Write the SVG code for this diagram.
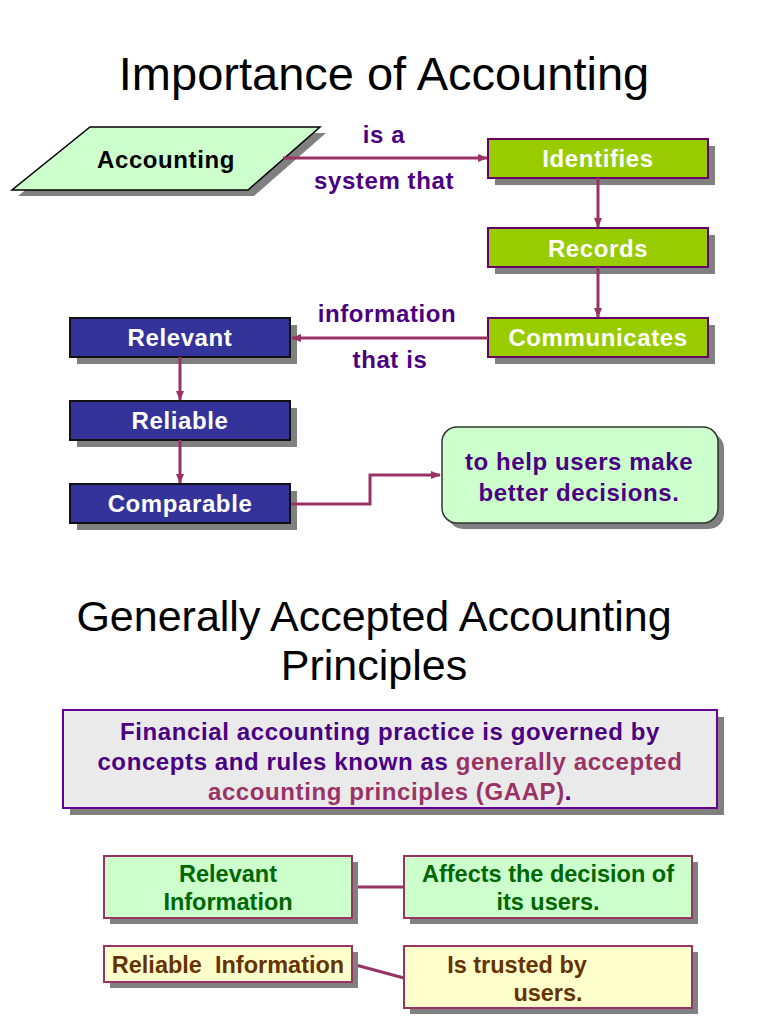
<svg xmlns="http://www.w3.org/2000/svg" width="768" height="1024" viewBox="0 0 768 1024">
<defs>
<marker id="ah" markerWidth="10" markerHeight="8" refX="9" refY="4" orient="auto" markerUnits="userSpaceOnUse">
<path d="M0,0 L10,4 L0,8 Z" fill="#993366"/>
</marker>
<style>
.t{font-family:"Liberation Sans",Arial,sans-serif;font-weight:bold;font-size:24px;letter-spacing:0.6px;text-anchor:middle}
.title{font-family:"Liberation Sans",Arial,sans-serif;text-anchor:middle;fill:#000}
.lbl{fill:#4b0082}
.w{fill:#fff}
.sh{fill:#808080}
.green{fill:#99cc00;stroke:#660066;stroke-width:2}
.blue{fill:#333399;stroke:#111;stroke-width:2}
.conn{stroke:#993366;stroke-width:3;fill:none}
.b{font-size:23.5px;letter-spacing:0}
</style>
</defs>
<rect width="768" height="1024" fill="#fff"/>

<text class="title" x="384" y="90" font-size="47">Importance of Accounting</text>

<g id="accounting">
<polygon class="sh" points="96,133 326,133 254,196 18,196"/>
<polygon points="90,127 320,127 248,190 12,190" fill="#ccffcc" stroke="#000" stroke-width="1.5"/>
<text class="t" x="166" y="168" fill="#000">Accounting</text>
</g>

<g id="identifies">
<rect class="sh" x="495" y="146" width="220" height="39"/>
<rect class="green" x="488" y="139" width="220" height="39"/>
<text class="t w" x="598" y="167">Identifies</text>
</g>
<g id="records">
<rect class="sh" x="495" y="235" width="220" height="39"/>
<rect class="green" x="488" y="228" width="220" height="39"/>
<text class="t w" x="598" y="257">Records</text>
</g>
<g id="communicates">
<rect class="sh" x="495" y="325" width="220" height="39"/>
<rect class="green" x="488" y="318" width="220" height="39"/>
<text class="t w" x="598" y="346">Communicates</text>
</g>

<g id="relevant">
<rect class="sh" x="77" y="325" width="220" height="39"/>
<rect class="blue" x="70" y="318" width="220" height="39"/>
<text class="t w" x="180" y="346">Relevant</text>
</g>
<g id="reliable">
<rect class="sh" x="77" y="408" width="220" height="39"/>
<rect class="blue" x="70" y="401" width="220" height="39"/>
<text class="t w" x="180" y="429">Reliable</text>
</g>
<g id="comparable">
<rect class="sh" x="77" y="491" width="220" height="39"/>
<rect class="blue" x="70" y="484" width="220" height="39"/>
<text class="t w" x="180" y="512">Comparable</text>
</g>

<g id="decisions">
<rect class="sh" x="448" y="433" width="276" height="96" rx="15"/>
<rect x="442" y="427" width="276" height="96" rx="15" fill="#ccffcc" stroke="#333" stroke-width="1.5"/>
<text class="t lbl" x="579" y="470">to help users make</text>
<text class="t lbl" x="579" y="501">better decisions.</text>
</g>

<g id="connectors">
<line class="conn" x1="283" y1="158" x2="487" y2="158" marker-end="url(#ah)"/>
<line class="conn" x1="598" y1="178" x2="598" y2="227" marker-end="url(#ah)"/>
<line class="conn" x1="598" y1="267" x2="598" y2="317" marker-end="url(#ah)"/>
<line class="conn" x1="488" y1="338" x2="292" y2="338" marker-end="url(#ah)"/>
<line class="conn" x1="180" y1="357" x2="180" y2="400" marker-end="url(#ah)"/>
<line class="conn" x1="180" y1="440" x2="180" y2="483" marker-end="url(#ah)"/>
<polyline class="conn" points="291,504 370,504 370,475 440,475" marker-end="url(#ah)"/>
<line class="conn" x1="352" y1="887" x2="404" y2="887"/>
<line class="conn" x1="352" y1="964" x2="404" y2="978"/>
</g>

<g id="labels">
<text class="t lbl" x="384" y="143">is a</text>
<text class="t lbl" x="384" y="189">system that</text>
<text class="t lbl" x="387" y="322">information</text>
<text class="t lbl" x="390" y="368">that is</text>
</g>

<text class="title" x="374" y="631" font-size="43">Generally Accepted Accounting</text>
<text class="title" x="374" y="680" font-size="43">Principles</text>

<g id="gaap">
<rect class="sh" x="70" y="717" width="654" height="98"/>
<rect x="63" y="710" width="654" height="98" fill="#eaeaea" stroke="#660099" stroke-width="2"/>
<text class="t lbl" x="390" y="740">Financial accounting practice is governed by</text>
<text class="t lbl" x="390" y="770">concepts and rules known as <tspan fill="#993366">generally accepted</tspan></text>
<text class="t" x="390" y="800"><tspan fill="#993366">accounting principles (GAAP)</tspan><tspan fill="#4b0082">.</tspan></text>
</g>

<g id="relevant-info">
<rect class="sh" x="110" y="862" width="248" height="62"/>
<rect x="104" y="856" width="248" height="62" fill="#ccffcc" stroke="#993366" stroke-width="2"/>
<text class="t b" x="228" y="882" fill="#006600">Relevant</text>
<text class="t b" x="228" y="910" fill="#006600">Information</text>
</g>
<g id="affects">
<rect class="sh" x="410" y="862" width="288" height="62"/>
<rect x="404" y="856" width="288" height="62" fill="#ccffcc" stroke="#993366" stroke-width="2"/>
<text class="t b" x="548" y="882" fill="#006600">Affects the decision of</text>
<text class="t b" x="548" y="910" fill="#006600">its users.</text>
</g>
<g id="reliable-info">
<rect class="sh" x="110" y="952" width="248" height="36"/>
<rect x="104" y="946" width="248" height="36" fill="#ffffcc" stroke="#993366" stroke-width="2"/>
<text class="t b" x="228" y="973" fill="#663300" style="white-space:pre">Reliable  Information</text>
</g>
<g id="trusted">
<rect class="sh" x="410" y="952" width="288" height="62"/>
<rect x="404" y="946" width="288" height="62" fill="#ffffcc" stroke="#993366" stroke-width="2"/>
<text class="t b" x="517" y="973" fill="#663300">Is trusted by</text>
<text class="t b" x="548" y="1001" fill="#663300">users.</text>
</g>
</svg>
